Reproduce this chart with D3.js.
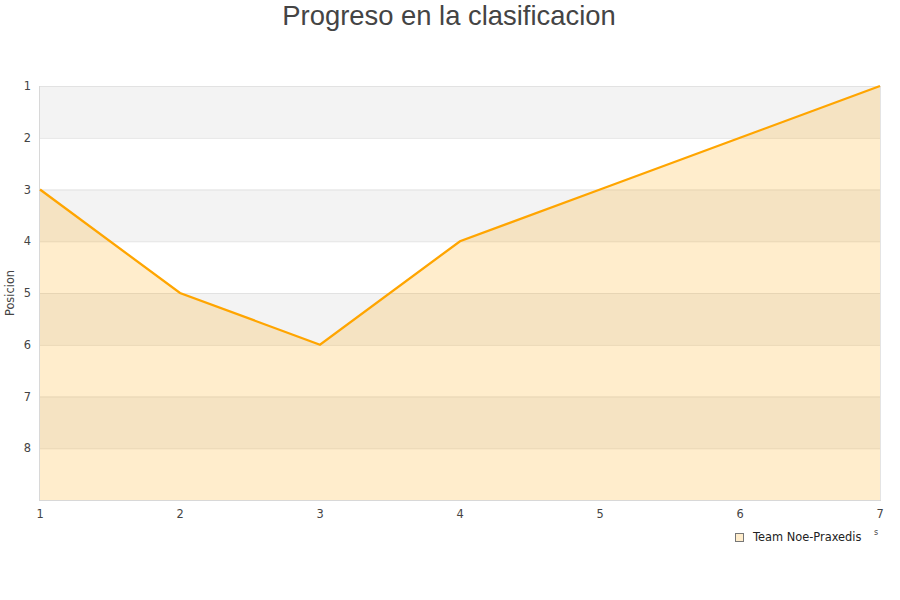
<!DOCTYPE html>
<html><head><meta charset="utf-8">
<script src="https://cdn.jsdelivr.net/npm/d3@7/dist/d3.min.js"></script>
<style>body{margin:0;background:#fff}svg{display:block}</style>
</head><body>
<svg id="c" width="900" height="600"></svg>
<script>
const jornadas = [1, 2, 3, 4, 5, 6, 7];
const posiciones = [3, 5, 6, 4, 3, 2, 1];
const yTicks = [1, 2, 3, 4, 5, 6, 7, 8];
const seriesName = "Team Noe-Praxedis";
const title = "Progreso en la clasificacion";
const yTitle = "Posicion";

const svg = d3.select("#c");
const L = 40, R = 880, T = 86, B = 500;
const x = d3.scaleLinear().domain([1, 7]).range([L, R]);
const y = d3.scaleLinear().domain([1, 9]).range([T, B]);

const bands = d3.range(1, 9);
svg.append("g").selectAll("rect").data(bands).join("rect")
  .attr("x", L).attr("width", R - L)
  .attr("y", d => y(d)).attr("height", d => y(d + 1) - y(d))
  .attr("fill", d => d % 2 === 1 ? "#f3f3f3" : "#ffffff");

svg.append("g").selectAll("line").data(d3.range(1, 10)).join("line")
  .attr("x1", L).attr("x2", R)
  .attr("y1", d => y(d) + 0.5).attr("y2", d => y(d) + 0.5)
  .attr("stroke", "#e2e2e2").attr("stroke-width", 1);

const pts = jornadas.map((j, i) => [j, posiciones[i]]);
const area = d3.area().x(d => x(d[0])).y0(y(9)).y1(d => y(d[1]));
svg.append("path").datum(pts).attr("d", area)
  .attr("fill", "rgba(255,165,0,0.2)");

svg.append("line").attr("x1", L - 0.5).attr("x2", L - 0.5).attr("y1", T).attr("y2", B + 1)
  .attr("stroke", "#d8d8d8");
svg.append("line").attr("x1", R + 0.5).attr("x2", R + 0.5).attr("y1", T).attr("y2", B + 1)
  .attr("stroke", "#e4e4e4");
svg.append("line").attr("x1", L).attr("x2", R + 1).attr("y1", B + 0.5).attr("y2", B + 0.5)
  .attr("stroke", "#d8d8d8");

const line = d3.line().x(d => x(d[0])).y(d => y(d[1]));
svg.append("path").datum(pts).attr("d", line)
  .attr("fill", "none").attr("stroke", "#ffa500").attr("stroke-width", 2.3);

const F = "DejaVu Sans, sans-serif";
svg.append("g").selectAll("text").data(yTicks).join("text")
  .attr("x", 31).attr("y", d => y(d) + 4)
  .attr("text-anchor", "end")
  .attr("font-family", F).attr("font-size", 11.4)
  .attr("fill", "#444").text(d => d);

svg.append("g").selectAll("text").data(jornadas).join("text")
  .attr("x", d => x(d)).attr("y", 518)
  .attr("text-anchor", "middle")
  .attr("font-family", F).attr("font-size", 11.4)
  .attr("fill", "#444").text(d => d);

svg.append("text")
  .attr("transform", `translate(14,${(T + B) / 2}) rotate(-90)`)
  .attr("text-anchor", "middle")
  .attr("font-family", F).attr("font-size", 11.4)
  .attr("fill", "#444").text(yTitle);

svg.append("text").attr("x", 449).attr("y", 25)
  .attr("text-anchor", "middle")
  .attr("font-family", "Liberation Sans, Arial, sans-serif").attr("font-size", 27.4)
  .attr("fill", "#444").text(title);

svg.append("rect").attr("x", 735.5).attr("y", 533.5).attr("width", 8).attr("height", 8)
  .attr("fill", "#ffedcc").attr("stroke", "#777").attr("stroke-width", 1);
svg.append("text").attr("x", 753).attr("y", 541)
  .attr("font-family", F).attr("font-size", 11.4)
  .attr("fill", "#222").text(seriesName);

svg.append("text").attr("x", 876).attr("y", 535)
  .attr("text-anchor", "middle")
  .attr("font-family", F).attr("font-size", 8)
  .attr("fill", "#444").text("s");
</script>
</body></html>
